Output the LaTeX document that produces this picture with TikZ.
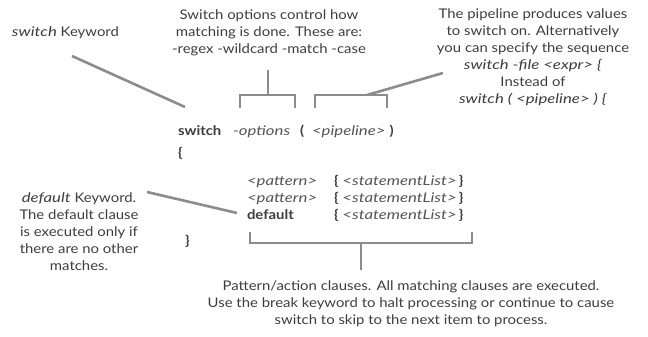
\documentclass[tikz,border=0pt]{standalone}
\usepackage{fontspec}
\setmainfont{Lato}[FakeStretch=1.12,ItalicFeatures={FakeStretch=1.26},BoldItalicFeatures={FakeStretch=1.26}]
\definecolor{txt}{HTML}{3D3D3D}
\definecolor{soft}{HTML}{555555}
\definecolor{ln}{HTML}{8C8C8C}
\newcommand{\ci}[1]{\textcolor{soft}{\textit{#1}}}
\begin{document}
\begin{tikzpicture}[x=1pt,y=-1pt,
  every node/.style={inner sep=0pt,outer sep=0pt,text=txt,font=\fontsize{13.3}{17}\selectfont},
  note/.style={align=center},
  code/.style={anchor=base west},
  conn/.style={draw=ln,line width=2.6pt},
]
\useasboundingbox (0,0) rectangle (648,337);
% annotations
\node[anchor=west] (kw) at (12,33) {\textit{switch} Keyword};
\node[note] (opt) at (269,33) {Switch options control how\\matching is done. These are:\\-regex -wildcard -match -case};
\node[note] (pipe) at (533,57) {The pipeline produces values\\to switch on. Alternatively\\you can specify the sequence\\\textit{switch -file <expr> \{}\\Instead of\\\textit{switch ( <pipeline> ) \{}};
\node[note] (def) at (79,232) {\textit{default} Keyword.\\The default clause\\is executed only if\\there are no other\\matches.};
\node[note] (pat) at (411,304) {Pattern/action clauses. All matching clauses are executed.\\Use the break keyword to halt processing or continue to cause\\switch to skip to the next item to process.};
% code
\node[code] (sw) at (178,135) {\textbf{switch}};
\node[code] (op) at (233,135) {\ci{-options}};
\node[code] (lp) at (300,135) {\textbf{(}};
\node[code] (pl) at (312,135) {\ci{<pipeline>}};
\node[code] (rp) at ([xshift=4pt]pl.base east) {\textbf{)}};
\node[code] (ob) at (178,157) {\textbf{\{}};
\node[code] (p1) at (247,185) {\ci{<pattern>}};
\node[code] (s1) at (334,185) {\textbf{\{} \ci{<statementList>}\,\textbf{\}}};
\node[code] (p2) at (247,202) {\ci{<pattern>}};
\node[code] (s2) at (334,202) {\textbf{\{} \ci{<statementList>}\,\textbf{\}}};
\node[code] (dk) at (247,219) {\textbf{default}};
\node[code] (s3) at (334,219) {\textbf{\{} \ci{<statementList>}\,\textbf{\}}};
\node[code] (cb) at (185,245) {\textbf{\}}};
% bracket coordinates
\coordinate (a1) at (240,108); \coordinate (a2) at (295,108);
\coordinate (a3) at (268,95); \coordinate (a4) at (268,70);
\coordinate (b1) at (315,108); \coordinate (b2) at (387,108);
\coordinate (b3) at (367,95); \coordinate (b4) at (443,73);
\coordinate (c1) at (250,232); \coordinate (c2) at (472,232);
\coordinate (c3) at (361,243); \coordinate (c4) at (361,270);
\coordinate (k1) at (72,56); \coordinate (k2) at (185,107);
\coordinate (d1) at (147,192); \coordinate (d2) at (237,213);
\draw[conn] (a1) -- ++(0,-13) -| (a2);
\draw[conn] (a3) -- (a4);
\draw[conn] (b1) -- ++(0,-13) -| (b2);
\draw[conn] (b3) -- (b4);
\draw[conn] (c1) -- ++(0,11) -| (c2);
\draw[conn] (c3) -- (c4);
\draw[conn] (k1) -- (k2);
\draw[conn] (d1) -- (d2);
\end{tikzpicture}
\end{document}
